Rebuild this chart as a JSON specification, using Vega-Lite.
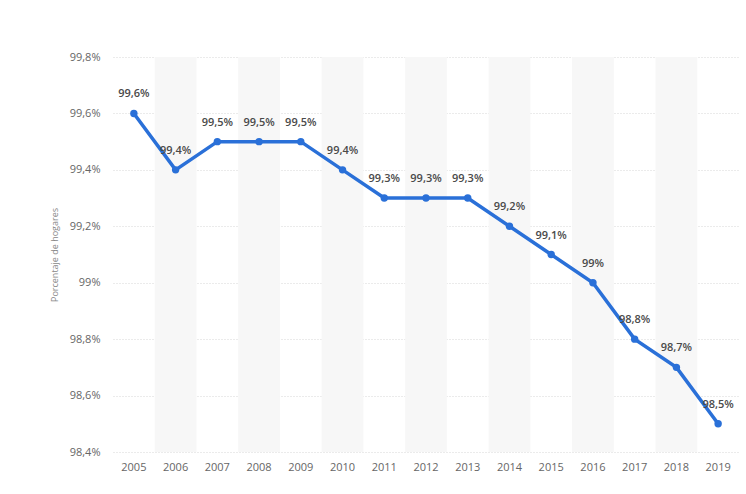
{
  "$schema": "https://vega.github.io/schema/vega-lite/v6.json",
  "autosize": "none",
  "width": 626,
  "height": 395,
  "padding": {"left": 113, "top": 57, "right": 7, "bottom": 42},
  "background": "white",
  "config": {"view": {"stroke": null}, "font": "Open Sans"},
  "data": {"values": [
    {"year": "2005", "value": 99.6},
    {"year": "2006", "value": 99.4},
    {"year": "2007", "value": 99.5},
    {"year": "2008", "value": 99.5},
    {"year": "2009", "value": 99.5},
    {"year": "2010", "value": 99.4},
    {"year": "2011", "value": 99.3},
    {"year": "2012", "value": 99.3},
    {"year": "2013", "value": 99.3},
    {"year": "2014", "value": 99.2},
    {"year": "2015", "value": 99.1},
    {"year": "2016", "value": 99.0},
    {"year": "2017", "value": 98.8},
    {"year": "2018", "value": 98.7},
    {"year": "2019", "value": 98.5}
  ]},
  "encoding": {
    "x": {"field": "year", "type": "ordinal", "scale": {"paddingInner": 0, "paddingOuter": 0},
      "axis": {"title": null, "labelAngle": 0, "domain": false, "ticks": false, "labelPadding": 9, "labelFontSize": 11, "labelColor": "#666666"}}
  },
  "layer": [
    {
      "transform": [{"filter": "toNumber(datum.year) % 2 == 0"}],
      "mark": {"type": "bar", "color": "#f7f7f7"},
      "encoding": {}
    },
    {
      "mark": {"type": "line", "color": "#2a70d8", "strokeWidth": 3.5},
      "encoding": {
        "y": {"field": "value", "type": "quantitative", "scale": {"domain": [98.4, 99.8], "nice": false, "zero": false},
          "axis": {"title": "Porcentaje de hogares", "titleFontSize": 9, "titleFontWeight": "normal", "titleColor": "#888888", "titlePadding": 10,
            "values": [98.4, 98.6, 98.8, 99.0, 99.2, 99.4, 99.6, 99.8],
            "labelExpr": "replace(format(datum.value, '.1~f'), '.', ',') + '%'",
            "domain": false, "ticks": false, "labelPadding": 13, "labelFontSize": 11, "labelColor": "#666666",
            "gridColor": "#d6d6d6", "gridDash": [1, 2], "gridWidth": 1}}
      }
    },
    {
      "mark": {"type": "point", "filled": true, "color": "#2a70d8", "size": 55, "opacity": 1},
      "encoding": {"y": {"field": "value", "type": "quantitative"}}
    },
    {
      "transform": [{"calculate": "replace(format(datum.value, '.1~f'), '.', ',') + '%'", "as": "label"}],
      "mark": {"type": "text", "dy": -19, "fontSize": 11, "fontWeight": 600, "color": "#4a4a4a"},
      "encoding": {"y": {"field": "value", "type": "quantitative"}, "text": {"field": "label"}}
    }
  ]
}
